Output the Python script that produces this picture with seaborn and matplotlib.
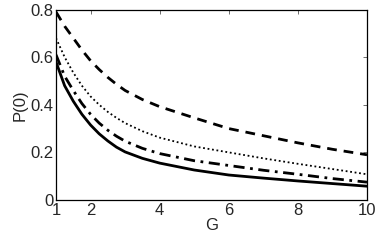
import numpy as np
import pandas as pd
import matplotlib
matplotlib.use("Agg")
import matplotlib.pyplot as plt
import seaborn as sns

# values
G = [1, 1.25, 1.5, 1.75, 2, 2.25, 2.5, 2.75, 3, 3.5, 4, 5, 6, 7, 8, 9, 10]
p_dashed = [0.79, 0.73, 0.68, 0.63, 0.585, 0.548, 0.515, 0.486, 0.46, 0.422, 0.392,
            0.345, 0.30, 0.27, 0.24, 0.213, 0.19]
p_dotted = [0.68, 0.60, 0.535, 0.48, 0.435, 0.40, 0.37, 0.345, 0.323, 0.289, 0.262,
            0.225, 0.20, 0.175, 0.152, 0.13, 0.108]
p_dashdot = [0.61, 0.52, 0.46, 0.405, 0.36, 0.323, 0.293, 0.268, 0.247, 0.217, 0.195,
             0.165, 0.145, 0.125, 0.108, 0.09, 0.075]
p_solid = [0.58, 0.48, 0.415, 0.36, 0.315, 0.278, 0.248, 0.222, 0.202, 0.175, 0.155,
           0.126, 0.105, 0.092, 0.08, 0.069, 0.058]

xticks = [1, 2, 4, 6, 8, 10]
yticks = [0, 0.2, 0.4, 0.6, 0.8]
ylabels = ["0", "0.2", "0.4", "0.6", "0.8"]

sns.set_style("white")
plt.rcParams["font.family"] = ["Liberation Sans", "DejaVu Sans"]

fig = plt.figure(figsize=(3.82, 2.44), dpi=100)
ax = fig.add_axes([0.1466, 0.1803, 0.8141, 0.7807])

series = [(p_dashed, (0, (3.5, 2.5)), 2.0),
          (p_dotted, (0, (1, 1.5)), 1.3),
          (p_dashdot, (0, (4, 2, 1, 2)), 2.0),
          (p_solid, "-", 2.0)]
for vals, ls, lw in series:
    sns.lineplot(x=G, y=vals, ax=ax, color="black", linestyle=ls, linewidth=lw)

ax.set_xlim(1, 10)
ax.set_ylim(0, 0.8)
ax.set_xticks(xticks)
ax.set_xticklabels([str(t) for t in xticks])
ax.set_yticks(yticks)
ax.set_yticklabels(ylabels)
ax.tick_params(direction="in", length=3, width=0.6, top=True, right=True,
               labelsize=12, pad=2, color="#555555")
for s in ax.spines.values():
    s.set_color("black")
    s.set_linewidth(0.9)
ax.set_xlabel("G", fontsize=12, labelpad=0)
ax.set_ylabel("P(0)", fontsize=12, labelpad=2)

fig.savefig("out.png", dpi=100)
